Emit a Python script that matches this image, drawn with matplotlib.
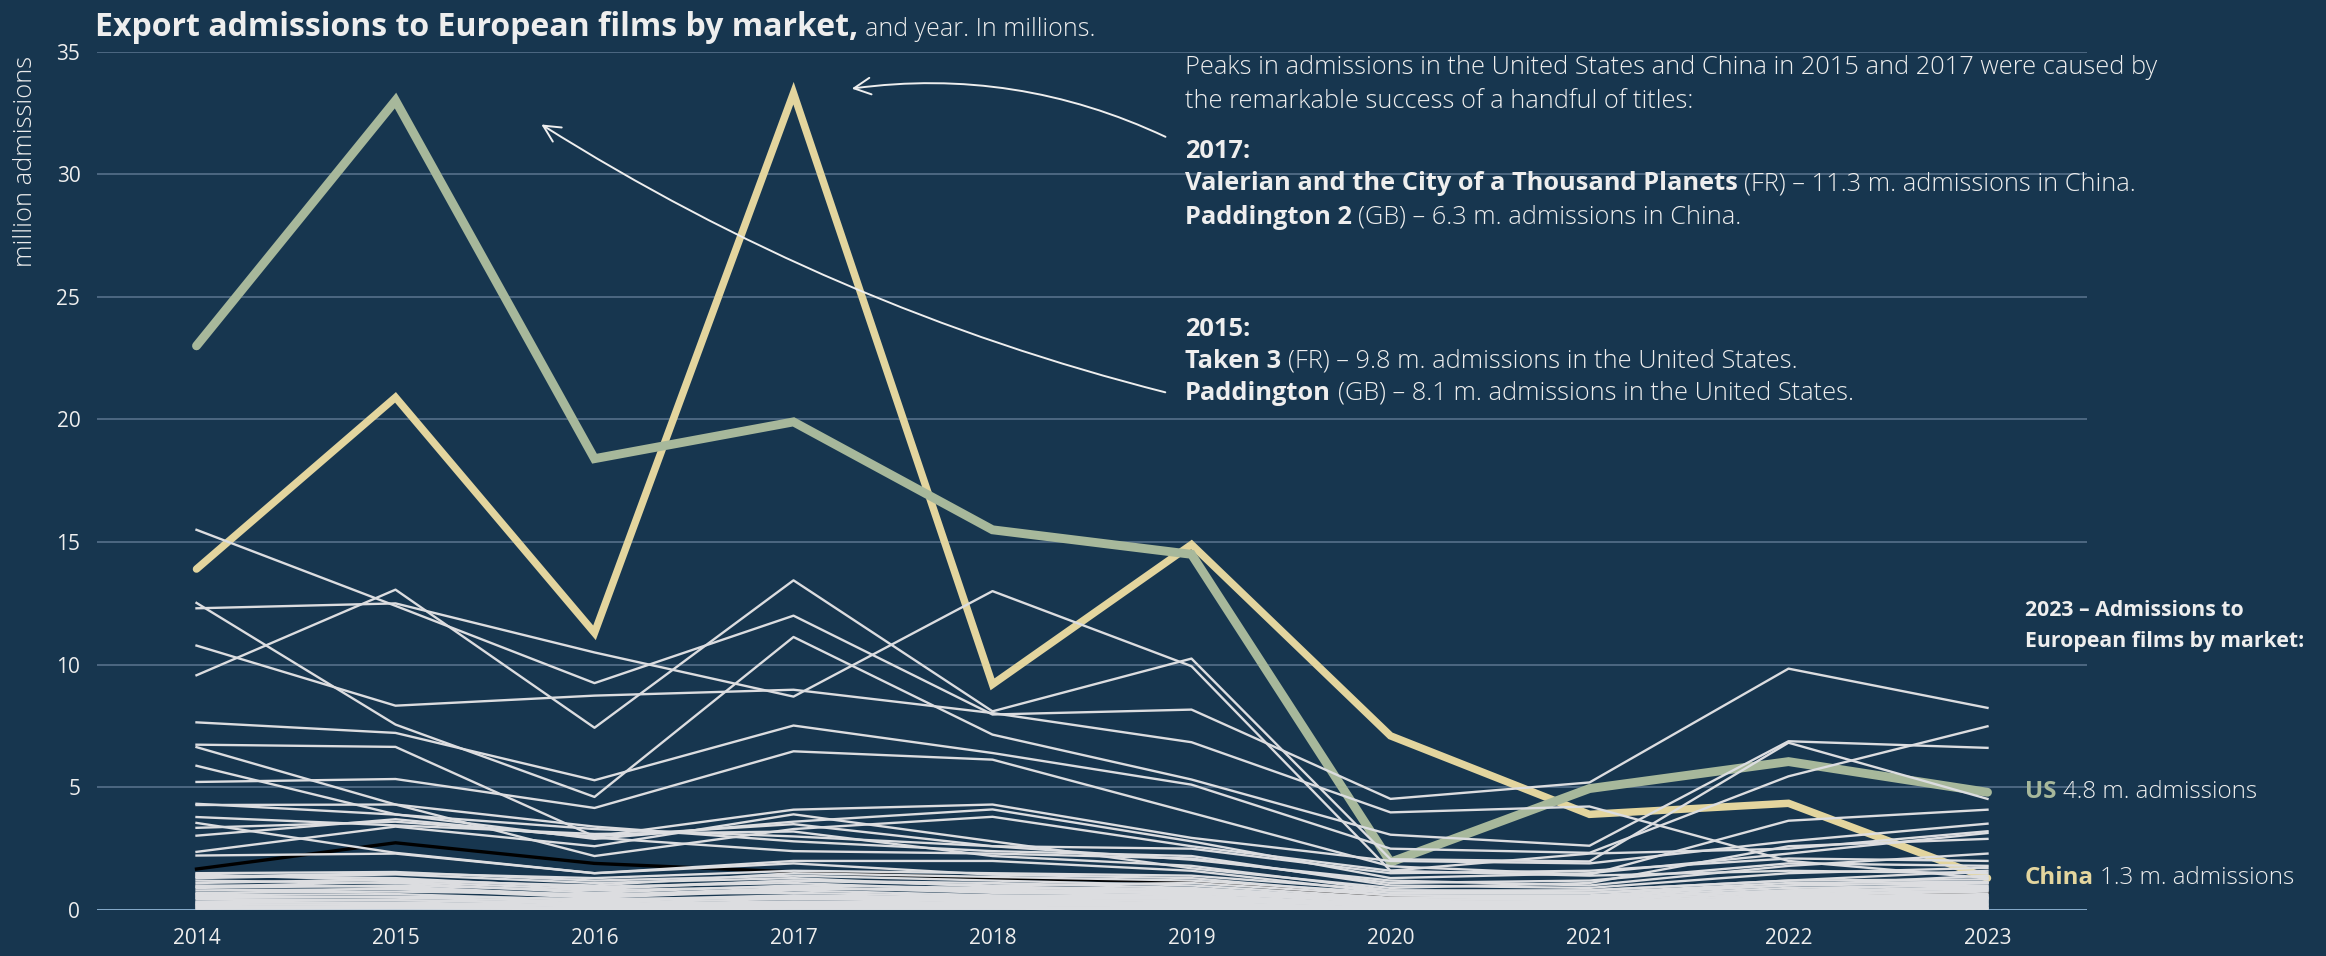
import matplotlib.pyplot as plt
from matplotlib.patches import FancyArrowPatch

plt.rcParams['font.family'] = ['Open Sans', 'DejaVu Sans']

# ---- data (million admissions) ----
years = [2014, 2015, 2016, 2017, 2018, 2019, 2020, 2021, 2022, 2023]
us = [23.0, 33.0, 18.4, 19.9, 15.5, 14.5, 1.95, 4.95, 6.05, 4.8]
china = [13.9, 20.9, 11.3, 33.3, 9.2, 14.9, 7.1, 3.9, 4.35, 1.3]

# the one dark line
dark_market = [1.67, 2.74, 1.9, 1.55, 1.3, 1.15, 0.55, 0.5, 0.6, 0.7]

# all the other markets
other_markets = [
    [15.5, 12.4, 9.25, 12.0, 7.97, 8.17, 4.53, 5.2, 9.84, 8.24],
    [12.3, 12.5, 10.5, 8.7, 13.0, 9.94, 1.6, 1.4, 1.6, 1.5],
    [9.57, 13.06, 7.43, 13.44, 8.1, 10.25, 2.07, 1.98, 6.82, 4.53],
    [10.78, 8.33, 8.74, 8.98, 8.03, 6.84, 3.98, 4.22, 2.0, 1.3],
    [12.52, 7.56, 4.61, 11.13, 7.15, 5.32, 3.07, 2.62, 6.88, 6.61],
    [7.65, 7.22, 5.29, 7.52, 6.4, 5.11, 2.5, 2.33, 5.45, 7.49],
    [5.22, 5.34, 4.16, 6.47, 6.13, 3.96, 1.78, 1.44, 3.64, 4.09],
    [6.74, 6.65, 3.0, 4.09, 4.3, 2.94, 2.0, 1.9, 2.8, 3.52],
    [6.64, 4.3, 2.2, 3.3, 3.8, 2.6, 1.6, 2.3, 2.5, 3.21],
    [5.88, 3.9, 2.9, 3.6, 4.1, 2.8, 1.3, 1.5, 2.3, 3.14],
    [4.33, 3.89, 3.3, 3.0, 2.6, 2.05, 1.2, 1.0, 1.8, 2.3],
    [4.28, 4.3, 3.4, 2.8, 2.4, 2.2, 1.0, 0.9, 1.5, 1.72],
    [3.79, 3.45, 3.1, 3.2, 2.2, 1.8, 0.8, 0.8, 1.2, 1.6],
    [3.55, 2.33, 1.5, 2.0, 2.0, 1.6, 0.7, 0.7, 1.0, 1.4],
    [3.35, 3.6, 3.0, 3.5, 2.6, 2.5, 1.5, 1.6, 2.1, 2.0],
    [3.03, 3.7, 2.95, 2.4, 2.3, 2.1, 1.1, 1.2, 1.9, 1.8],
    [2.37, 3.4, 2.6, 3.9, 2.8, 1.7, 0.9, 1.1, 2.6, 2.9],
    [2.22, 2.3, 1.5, 1.9, 1.44, 1.3, 0.6, 0.5, 0.8, 1.1],
    [1.5, 1.55, 1.2, 1.4, 1.2, 1.0, 0.5, 0.55, 0.9, 1.0],
    [1.4, 1.3, 0.9, 1.2, 1.1, 0.9, 0.45, 0.4, 0.7, 0.9],
    [1.3, 1.45, 1.1, 1.3, 0.95, 0.85, 0.4, 0.45, 0.8, 0.85],
    [1.2, 1.1, 0.7, 1.0, 0.9, 0.8, 0.35, 0.35, 0.6, 0.75],
    [1.1, 1.25, 0.95, 1.1, 0.8, 0.75, 0.3, 0.3, 0.65, 0.8],
    [1.0, 0.95, 0.6, 0.9, 0.75, 0.7, 0.3, 0.3, 0.5, 0.6],
    [0.9, 1.0, 0.8, 0.95, 0.7, 0.6, 0.25, 0.25, 0.45, 0.55],
    [0.8, 0.85, 0.5, 0.8, 0.6, 0.55, 0.2, 0.2, 0.4, 0.5],
    [0.7, 0.75, 0.65, 0.7, 0.55, 0.5, 0.2, 0.2, 0.35, 0.45],
    [0.6, 0.65, 0.4, 0.6, 0.5, 0.45, 0.15, 0.15, 0.3, 0.4],
    [0.5, 0.55, 0.45, 0.5, 0.4, 0.4, 0.15, 0.12, 0.25, 0.35],
    [0.45, 0.4, 0.3, 0.45, 0.35, 0.3, 0.1, 0.1, 0.2, 0.3],
    [0.35, 0.4, 0.25, 0.35, 0.3, 0.25, 0.1, 0.1, 0.15, 0.25],
    [0.3, 0.3, 0.2, 0.3, 0.25, 0.2, 0.08, 0.08, 0.12, 0.2],
    [0.2, 0.25, 0.15, 0.2, 0.2, 0.15, 0.06, 0.06, 0.1, 0.15],
    [0.15, 0.15, 0.1, 0.15, 0.12, 0.1, 0.05, 0.05, 0.08, 0.1],
    [0.1, 0.1, 0.08, 0.1, 0.08, 0.08, 0.03, 0.03, 0.05, 0.07],
    [0.05, 0.06, 0.04, 0.05, 0.05, 0.04, 0.02, 0.02, 0.03, 0.04],
    [1.45, 1.2, 1.0, 1.5, 1.35, 1.2, 0.7, 0.8, 1.2, 1.25],
    [1.35, 1.5, 1.3, 1.6, 1.5, 1.4, 0.8, 0.7, 1.1, 1.15],
    [0.95, 1.15, 0.85, 1.2, 1.0, 1.1, 0.6, 0.6, 1.0, 1.1],
    [0.65, 0.9, 0.55, 0.85, 0.85, 0.65, 0.4, 0.5, 0.75, 0.95],
    [0.55, 0.5, 0.35, 0.55, 0.45, 0.35, 0.2, 0.25, 0.55, 0.65],
    [0.25, 0.2, 0.2, 0.25, 0.18, 0.18, 0.12, 0.15, 0.3, 0.5],
]

yticks = [0, 5, 10, 15, 20, 25, 30, 35]

BG = '#17364f'
GRID = '#56708a'
WHITE = '#dcdde0'
TXT = '#eeeeee'
US_COL = '#a7b89b'
CN_COL = '#e3d59e'

W, H = 2326, 956
fig = plt.figure(figsize=(W / 100, H / 100), dpi=100, facecolor=BG)
ax = fig.add_axes([97 / W, 1 - 910 / H, 1990 / W, 858.5 / H])
ax.set_facecolor(BG)

ax.plot(years, dark_market, color='black', lw=2.4, zorder=2)
ax.plot(years, china, color=CN_COL, lw=5.4, solid_capstyle='round', solid_joinstyle='miter', zorder=3)
ax.plot(years, us, color=US_COL, lw=6.4, solid_capstyle='round', solid_joinstyle='miter', zorder=4)
for m in other_markets:
    ax.plot(years, m, color=WHITE, lw=1.7, zorder=5)

ax.set_xlim(2013.5, 2023.5)
ax.set_ylim(0, 35)
ax.set_xticks(years)
ax.set_yticks(yticks)
ax.yaxis.grid(True, color=GRID, lw=1.2)
ax.set_axisbelow(True)
for s in ax.spines.values():
    s.set_visible(False)
ax.axhline(0, color='#8fb6d6', lw=1.2, zorder=1)
ax.tick_params(axis='both', length=0, labelsize=15, labelcolor=TXT)
ax.tick_params(axis='y', pad=12)
ax.tick_params(axis='x', pad=13)

fig.text(26 / W, 1 - 56 / H, 'million admissions', rotation=90, ha='center', va='top',
         fontsize=18.4, fontweight='light', color=TXT)

r = fig.canvas.get_renderer()


def space_px(size, weight='normal'):
    a = fig.text(0, 0, 'a a', fontsize=size, fontweight=weight)
    b = fig.text(0, 0, 'aa', fontsize=size, fontweight=weight)
    w = a.get_window_extent(renderer=r).width - b.get_window_extent(renderer=r).width
    a.remove()
    b.remove()
    return w


# title
t = fig.text(95 / W, 1 - 36 / H, 'Export admissions to European films by market,', fontsize=23,
             fontweight='bold', color=TXT, ha='left', va='baseline')
tx = 95 + t.get_window_extent(renderer=r).width + space_px(18)
fig.text(tx / W, 1 - 36 / H, 'and year. In millions.', fontsize=18, fontweight='light', color=TXT,
         ha='left', va='baseline')

# annotation block
fs = 18.3
sp = space_px(fs, 'light')
x0 = 1185


def line(y, txt, weight='light'):
    fig.text(x0 / W, 1 - y / H, txt, fontsize=fs, fontweight=weight, color=TXT, ha='left', va='center')


def chain(y, bold, rest):
    t = fig.text(x0 / W, 1 - y / H, bold, fontsize=fs, fontweight='bold', color=TXT, ha='left', va='center')
    xe = x0 + t.get_window_extent(renderer=r).width + sp
    fig.text(xe / W, 1 - y / H, rest, fontsize=fs, fontweight='light', color=TXT, ha='left', va='center')


line(68, 'Peaks in admissions in the United States and China in 2015 and 2017 were caused by')
line(101, 'the remarkable success of a handful of titles:')
line(152, '2017:', 'bold')
chain(184, 'Valerian and the City of a Thousand Planets', '(FR) – 11.3 m. admissions in China.')
chain(217, 'Paddington 2', '(GB) – 6.3 m. admissions in China.')
line(329, '2015:', 'bold')
chain(361, 'Taken 3', '(FR) – 9.8 m. admissions in the United States.')
chain(393, 'Paddington', '(GB) – 8.1 m. admissions in the United States.')

# arrows
arrow_kw = dict(transform=fig.transFigure, arrowstyle='->', mutation_scale=30,
                color=TXT, lw=1.4)
fig.patches.append(FancyArrowPatch((1168 / W, 1 - 138 / H), (849 / W, 1 - 89 / H),
                                   connectionstyle='arc3,rad=0.15', **arrow_kw))
fig.patches.append(FancyArrowPatch((1168 / W, 1 - 393 / H), (539 / W, 1 - 123 / H),
                                   connectionstyle='arc3,rad=-0.08', **arrow_kw))

# right-hand labels
lx = 2025
fig.text(lx / W, 1 - 610 / H, '2023 – Admissions to', fontsize=15.3, fontweight='bold', color=TXT, va='center')
fig.text(lx / W, 1 - 642 / H, 'European films by market:', fontsize=15.3, fontweight='bold', color=TXT, va='center')


def end_label(name, col, value):
    fs3 = 17.4
    yp = H - ax.transData.transform((years[-1], value))[1]
    t = fig.text(lx / W, 1 - yp / H, name, fontsize=fs3, fontweight='bold', color=col, va='center')
    xe = lx + t.get_window_extent(renderer=r).width + space_px(fs3, 'light')
    fig.text(xe / W, 1 - yp / H, '{} m. admissions'.format(value), fontsize=fs3, fontweight='light',
             color=TXT, va='center')


end_label('US', US_COL, us[-1])
end_label('China', CN_COL, china[-1])

fig.savefig('out.png', dpi=100, facecolor=BG)
